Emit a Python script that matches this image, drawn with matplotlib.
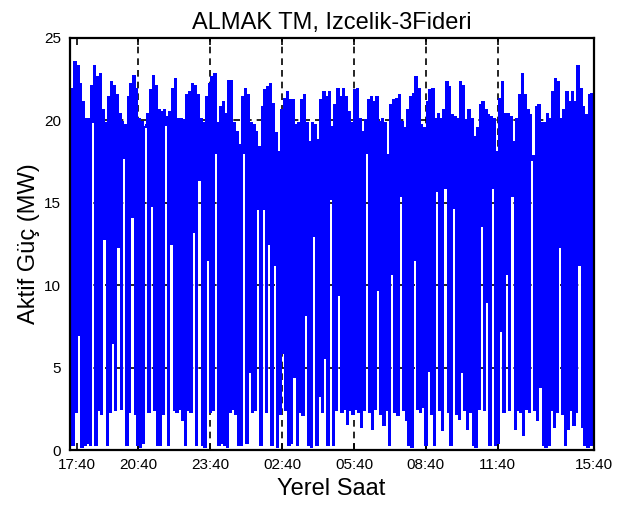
import matplotlib
matplotlib.use('Agg')
import matplotlib.pyplot as plt
import numpy as np

# upper value of each short load cycle (MW), read left to right
peaks = [20.6, 21.9, 23.5, 23.3, 22.2, 21.1, 20.1, 20.1, 22.1, 23.3, 22.6, 22.8, 20.6, 19.8, 21.4, 22.3,
         22.1, 21.5, 20.4, 19.9, 19.7, 21.4, 22.2, 22.7, 21.9, 20.1, 19.9, 19.6, 20.4, 21.8, 22.7, 22.1,
         20.6, 20.5, 20.6, 20.2, 20.5, 21.9, 22.5, 20.1, 20.1, 20.0, 21.5, 21.7, 22.2, 22.1, 21.5, 20.1,
         19.8, 21.4, 22.2, 22.6, 22.8, 19.8, 20.8, 21.1, 20.4, 22.4, 22.4, 19.8, 19.3, 18.5, 21.4, 21.9,
         21.5, 19.8, 19.7, 19.3, 18.4, 20.8, 21.8, 22.0, 22.2, 21.0, 19.2, 18.1, 20.6, 21.3, 21.7, 21.2,
         21.2, 19.7, 19.8, 21.2, 21.5, 19.8, 18.7, 19.8, 19.7, 18.8, 21.2, 21.7, 21.4, 21.7,
         19.6, 20.9, 21.9, 21.4, 21.9, 21.4, 20.5, 19.8, 21.8, 21.9, 20.1, 19.3, 20.0, 21.2, 21.4, 21.1,
         21.4, 19.9, 20.1, 19.8, 17.9, 20.9, 21.2, 21.3, 21.5, 19.9, 19.5, 20.6, 21.4, 21.6, 22.6, 21.9,
         19.7, 19.5, 21.1, 21.8, 21.9, 20.1, 20.4, 20.1, 20.6, 22.3, 22.0, 20.3, 20.2, 20.1, 22.3,
         22.1, 20.0, 20.6, 20.1, 19.0, 19.5, 20.9, 21.1, 20.6, 20.3, 20.2, 20.1, 18.1, 21.3, 22.3, 20.4,
         20.4, 20.2, 18.7, 20.1, 21.5, 22.8, 21.5, 20.6, 20.3, 17.8, 20.8, 20.9, 19.8, 19.8, 20.4, 20.1,
         21.7, 22.5, 22.3, 20.1, 20.6, 21.7, 21.1, 21.7, 21.1, 23.3, 21.9, 20.8, 20.3, 21.5, 21.6]

# lower value of each cycle (MW)
dips = [0.3, 0.3, 2.3, 7.0, 0.2, 0.3, 0.4, 0.3, 19.9, 0.3, 2.4, 2.2, 12.8, 0.3, 2.3, 6.5,
        2.4, 12.3, 2.5, 17.7, 0.3, 2.3, 14.1, 2.2, 0.3, 0.2, 0.4, 19.7, 2.3, 14.8, 2.4, 0.3,
        0.3, 2.2, 19.7, 0.3, 12.5, 2.4, 2.3, 2.5, 1.8, 0.3, 2.4, 2.3, 13.2, 0.3, 16.4, 0.3,
        0.2, 11.5, 2.3, 2.4, 18.0, 0.3, 0.4, 0.3, 0.2, 2.3, 2.5, 2.2, 0.3, 0.3, 18.0, 0.4,
        4.7, 2.3, 2.4, 14.6, 0.3, 14.6, 2.3, 12.5, 0.3, 11.2, 0.2, 2.2, 5.9, 2.4, 0.3, 0.4,
        4.4, 0.3, 2.3, 2.1, 8.2, 0.3, 0.2, 13.0, 0.3, 3.3, 2.3, 5.6, 0.3, 15.2, 0.3, 2.4,
        9.4, 2.3, 2.5, 1.6, 2.4, 2.2, 2.5, 2.3, 1.4, 2.4, 18.0, 2.3, 1.3, 2.5, 9.7, 2.2,
        1.5, 2.4, 0.3, 10.7, 2.3, 2.1, 15.4, 2.4, 1.8, 0.3, 0.2, 11.5, 2.5, 2.3, 2.6, 0.3,
        4.8, 2.2, 0.3, 15.7, 2.4, 1.2, 15.9, 2.3, 0.3, 14.7, 2.2, 1.9, 4.7, 2.4, 1.3, 2.3,
        0.3, 0.2, 2.5, 13.6, 2.4, 9.0, 0.3, 15.9, 0.3, 0.4, 7.2, 2.3, 10.7, 2.4, 15.4, 1.3,
        2.4, 2.3, 0.9, 2.5, 2.3, 17.6, 2.4, 1.8, 3.8, 0.3, 0.2, 0.3, 2.4, 1.4, 2.3, 12.3,
        2.2, 0.3, 1.3, 2.4, 1.5, 2.3, 11.2, 1.4, 0.3, 0.2, 0.3, 0.3]

tick_labels = ['17:40', '20:40', '23:40', '02:40', '05:40', '08:40', '11:40', '15:40']
tick_hours = [0.31, 2.88, 5.88, 8.88, 11.88, 14.88, 17.88, 21.88]
span_hours = 21.88

power = np.column_stack([peaks, dips]).ravel()
t = np.arange(len(power)) * span_hours / (len(power) - 1)

plt.rcParams['font.family'] = ['Liberation Sans', 'DejaVu Sans']

fig = plt.figure(figsize=(6.18, 5.09), dpi=100)
ax = fig.add_axes([0.1125, 0.1159, 0.8479, 0.81])

# dashed grid behind the trace (no vertical line at the first label)
grid_style = dict(color='black', linestyle=(0, (4, 3)), linewidth=1.2, zorder=1)
for y in [5, 10, 15, 20]:
    ax.axhline(y, **grid_style)
for h in tick_hours[1:-1]:
    ax.axvline(h, **grid_style)

ax.plot(t, power, color='#0000ff', lw=1.3, drawstyle='steps-mid', antialiased=False,
        solid_joinstyle='miter', solid_capstyle='butt', zorder=2)

ax.set_xlim(0, span_hours)
ax.set_ylim(0, 25)
ax.set_xticks(tick_hours)
ax.set_xticklabels(tick_labels)
ax.set_yticks([0, 5, 10, 15, 20, 25])

ax.tick_params(direction='in', length=5, width=1.2, top=True, right=True,
               labelsize=11, pad=6)
for s in ax.spines.values():
    s.set_linewidth(1.6)

ax.set_title('ALMAK TM, Izcelik-3Fideri', fontsize=17, pad=6)
ax.set_xlabel('Yerel Saat', fontsize=17, labelpad=4)
ax.set_ylabel('Aktif Güç (MW)', fontsize=17, labelpad=3)

fig.savefig('out.png', dpi=100)
